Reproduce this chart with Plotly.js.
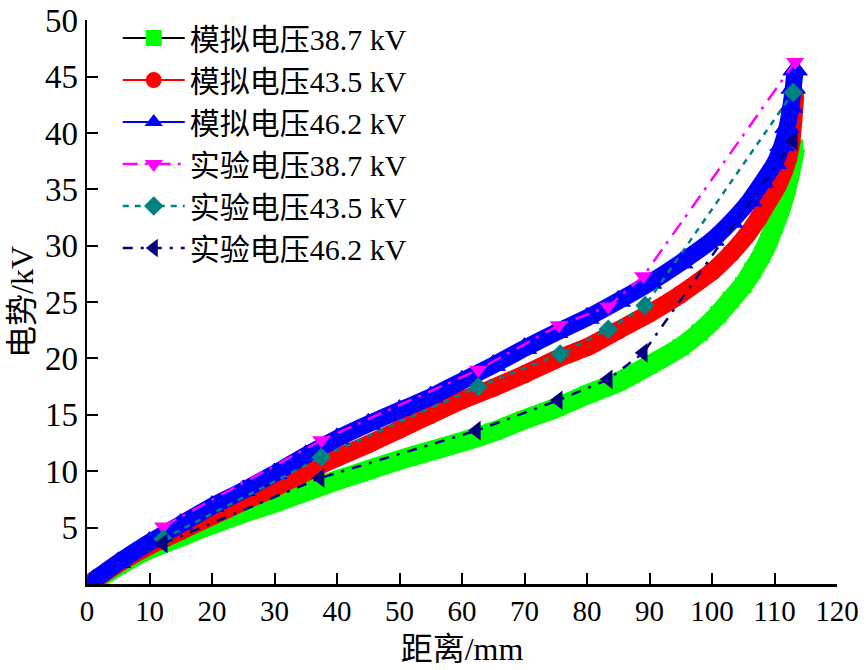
<!DOCTYPE html>
<html>
<head>
<meta charset="utf-8">
<script src="https://cdn.plot.ly/plotly-3.0.1.min.js"></script>
<style>html,body{margin:0;padding:0;background:#fff;}#chart{width:866px;height:670px;}</style>
</head>
<body>
<div id="chart"></div>
<script>
// Simulated curves (distance mm, potential kV)
const simX387 = [1, 5, 10, 15, 20, 25, 30, 35, 40, 45, 50, 55, 60, 65, 70, 75, 80, 85, 90, 95, 98, 101, 103, 105, 106.5, 108, 109, 110, 111, 111.8, 112.4, 112.9, 113.3];
const simY387 = [0.2, 1.6, 3.1, 4.2, 5.3, 6.3, 7.2, 8.2, 9.2, 10.1, 11.0, 11.8, 12.6, 13.5, 14.6, 15.6, 16.8, 17.9, 19.4, 21.0, 22.3, 23.9, 25.2, 26.5, 27.8, 29.2, 30.4, 31.8, 33.3, 34.8, 36.2, 37.5, 38.7];

const simX435 = [1, 5, 10, 15, 20, 25, 30, 35, 40, 45, 50, 55, 60, 65, 70, 75, 80, 85, 90, 95, 100, 103, 105.5, 107.5, 109, 110.4, 111.5, 112.2, 112.7, 113.0, 113.3];
const simY435 = [0.25, 1.8, 3.4, 4.7, 6.0, 7.3, 8.5, 9.9, 11.2, 12.4, 13.7, 15.0, 16.3, 17.4, 18.6, 19.9, 21.0, 22.5, 24.0, 25.7, 27.7, 29.3, 30.9, 32.5, 33.9, 35.2, 36.6, 37.8, 39.2, 41.0, 43.2];

const simX462 = [1, 5, 10, 15, 20, 25, 30, 35, 40, 45, 50, 55, 60, 65, 70, 75, 80, 85, 90, 95, 100, 103, 106, 108, 110, 111.2, 112, 112.6, 113, 113.3];
const simY462 = [0.3, 1.9, 3.7, 5.3, 6.9, 8.3, 9.8, 11.4, 12.9, 14.2, 15.4, 16.6, 18.0, 19.4, 20.9, 22.3, 23.6, 25.1, 26.7, 28.5, 30.5, 32.1, 34.0, 35.6, 37.3, 38.9, 40.5, 42.3, 44.0, 45.6];

// Experimental points
const expX387 = [12.2, 37.5, 62.6, 75.5, 83.4, 89.0, 113.3];
const expY387 = [5.1, 12.75, 19.0, 22.95, 24.6, 27.3, 46.3];
const expX435 = [12.2, 37.5, 62.6, 75.7, 83.4, 89.3, 113.0];
const expY435 = [4.0, 11.25, 17.5, 20.4, 22.6, 24.7, 43.6];
const expX462 = [12.2, 37.3, 62.3, 75.4, 83.4, 89.0, 113.0];
const expY462 = [3.6, 9.4, 13.6, 16.3, 18.15, 20.5, 39.3];

const names = ['模拟电压38.7 kV', '模拟电压43.5 kV', '模拟电压46.2 kV', '实验电压38.7 kV', '实验电压43.5 kV', '实验电压46.2 kV'];
const xTicks = [0, 10, 20, 30, 40, 50, 60, 70, 80, 90, 100, 110, 120];
const yTicks = [5, 10, 15, 20, 25, 30, 35, 40, 45, 50];

const FONT = '"Liberation Serif", "Times New Roman", "Noto Sans CJK SC", serif';

function simTraces(x, y, name, lineColor, color, symbol, size, band) {
  return [
    {x: x, y: y, name: name, mode: 'lines+markers', type: 'scatter',
     line: {color: lineColor, width: 2}, marker: {symbol: symbol, size: size, color: color},
     hoverinfo: 'skip'},
    {x: x, y: y, mode: 'lines', type: 'scatter', showlegend: false,
     line: {color: color, width: band, shape: 'spline', smoothing: 0.5}, hoverinfo: 'skip'},
    {x: x, y: y, mode: 'markers', type: 'scatter', showlegend: false,
     marker: {symbol: symbol, size: size, color: color}, hoverinfo: 'skip'}
  ];
}

const traces = [].concat(
  simTraces(simX387, simY387, names[0], '#000000', '#00ff00', 'square', 16, 20),
  simTraces(simX435, simY435, names[1], '#ff0000', '#ff0000', 'circle', 18, 18),
  simTraces(simX462, simY462, names[2], '#0000ff', '#0000ff', 'triangle-up', 22, 17),
  [
    {x: expX387, y: expY387, name: names[3], mode: 'lines+markers', type: 'scatter',
     line: {color: '#ff00ff', width: 2.5, dash: '15px,7px,3px,8px'},
     marker: {symbol: 'triangle-down', size: 16, color: '#ff00ff'}},
    {x: expX435, y: expY435, name: names[4], mode: 'lines+markers', type: 'scatter',
     line: {color: '#008080', width: 2.5, dash: '6px,6px'},
     marker: {symbol: 'diamond', size: 15, color: '#008080'}},
    {x: expX462, y: expY462, name: names[5], mode: 'lines+markers', type: 'scatter',
     line: {color: '#000080', width: 2.5, dash: '10px,8px,3px,8px'},
     marker: {symbol: 'triangle-left', size: 17, color: '#000080'}}
  ]
);

const layout = {
  width: 866, height: 670,
  margin: {l: 87, r: 29, t: 12, b: 86},
  paper_bgcolor: '#ffffff', plot_bgcolor: '#ffffff',
  font: {family: FONT, color: '#000000', size: 30},
  showlegend: true,
  legend: {x: 0.041, y: 1.014, xanchor: 'left', yanchor: 'top',
           bgcolor: 'rgba(0,0,0,0)', borderwidth: 0,
           font: {family: FONT, size: 30, color: '#000'}, tracegroupgap: 0, itemwidth: 62},
  xaxis: {range: [0, 120], tickvals: xTicks, ticktext: xTicks.map(String),
          showgrid: false, zeroline: false, showline: true, linecolor: '#000', linewidth: 2.5,
          ticks: 'inside', ticklen: 11, tickwidth: 2, tickcolor: '#000',
          tickfont: {family: FONT, size: 29, color: '#000'},
          title: {text: '距离/mm', font: {family: FONT, size: 32, color: '#000'}, standoff: 12},
          mirror: false},
  yaxis: {range: [0, 50.02], tickvals: yTicks, ticktext: yTicks.map(String),
          showgrid: false, zeroline: false, showline: true, linecolor: '#000', linewidth: 2.5,
          ticks: 'inside', ticklen: 11, tickwidth: 2, tickcolor: '#000',
          tickfont: {family: FONT, size: 33, color: '#000'},
          title: {text: '电势/kV', font: {family: FONT, size: 32, color: '#000'}, standoff: 2},
          mirror: false}
};

Plotly.newPlot('chart', traces, layout, {displayModeBar: false, staticPlot: true});
</script>
</body>
</html>
